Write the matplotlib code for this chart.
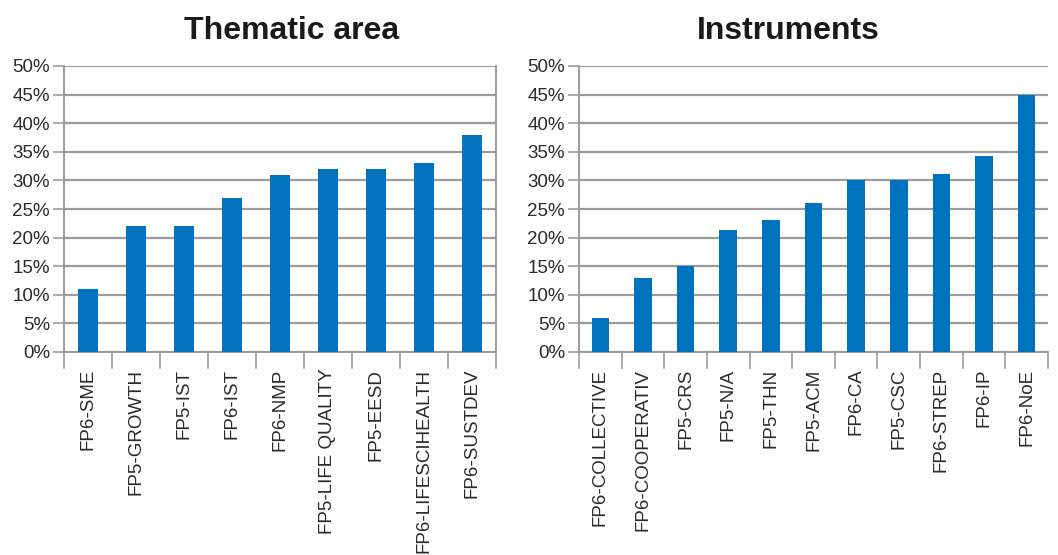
import matplotlib
matplotlib.use("Agg")
import matplotlib.pyplot as plt
from matplotlib.ticker import FuncFormatter

plt.rcParams['font.family'] = ['Liberation Sans', 'DejaVu Sans']

# Thematic area
thematic_labels = ["FP6-SME", "FP5-GROWTH", "FP5-IST", "FP6-IST", "FP6-NMP",
                   "FP5-LIFE QUALITY", "FP5-EESD", "FP6-LIFESCIHEALTH", "FP6-SUSTDEV"]
thematic_values = [11, 22, 22, 27, 31, 32, 32, 33, 38]

# Instruments
instrument_labels = ["FP6-COLLECTIVE", "FP6-COOPERATIV", "FP5-CRS", "FP5-N/A", "FP5-THN",
                     "FP5-ACM", "FP6-CA", "FP5-CSC", "FP6-STREP", "FP6-IP", "FP6-NoE"]
instrument_values = [6, 13, 15, 21.3, 23, 26, 30, 30, 31.2, 34.3, 45]

y_ticks = [0, 5, 10, 15, 20, 25, 30, 35, 40, 45, 50]

BAR = '#0073BF'
GRID = '#9c9c9c'
TEXT = '#2b2b2b'

fig = plt.figure(figsize=(10.58, 5.55), dpi=100)
ax1 = fig.add_axes([64 / 1058, 1 - 352 / 555, 432 / 1058, 286 / 555])
ax2 = fig.add_axes([579 / 1058, 1 - 352 / 555, 469 / 1058, 286 / 555])


def style(ax, labels, values, right_spine):
    x = range(len(labels))
    ax.set_axisbelow(True)
    ax.yaxis.grid(True, color=GRID, linewidth=1.6)
    ax.bar(x, values, width=0.41, color=BAR, zorder=3)
    ax.set_xlim(-0.5, len(labels) - 0.5)
    ax.set_ylim(0, 50)
    ax.set_yticks(y_ticks)
    ax.yaxis.set_major_formatter(FuncFormatter(lambda v, p: f"{int(v)}%"))
    ax.set_xticks([i - 0.5 for i in range(len(labels) + 1)], minor=False)
    ax.set_xticklabels([])
    ax.set_xticks(list(x), minor=True)
    ax.set_xticklabels(labels, minor=True, rotation=90, fontsize=13.5, color=TEXT)
    ax.tick_params(axis='x', which='major', length=12, width=1.2, color=GRID)
    ax.tick_params(axis='x', which='minor', length=0, pad=12)
    ax.tick_params(axis='y', length=8, width=1.2, color=GRID, labelsize=13.5,
                   labelcolor=TEXT, pad=2)
    for side in ['left', 'bottom']:
        ax.spines[side].set_color(GRID)
        ax.spines[side].set_linewidth(1.4)
    ax.spines['top'].set_visible(False)
    ax.spines['right'].set_visible(right_spine)
    ax.spines['right'].set_color(GRID)
    ax.spines['right'].set_linewidth(1.4)


style(ax1, thematic_labels, thematic_values, True)
style(ax2, instrument_labels, instrument_values, False)

fig.text(292 / 1058, 1 - 39 / 555, "Thematic area", ha='center', va='baseline',
         fontsize=23, fontweight='bold', color='#1a1a1a')
fig.text(788 / 1058, 1 - 39 / 555, "Instruments", ha='center', va='baseline',
         fontsize=23, fontweight='bold', color='#1a1a1a')

fig.savefig("out.png", dpi=100)
